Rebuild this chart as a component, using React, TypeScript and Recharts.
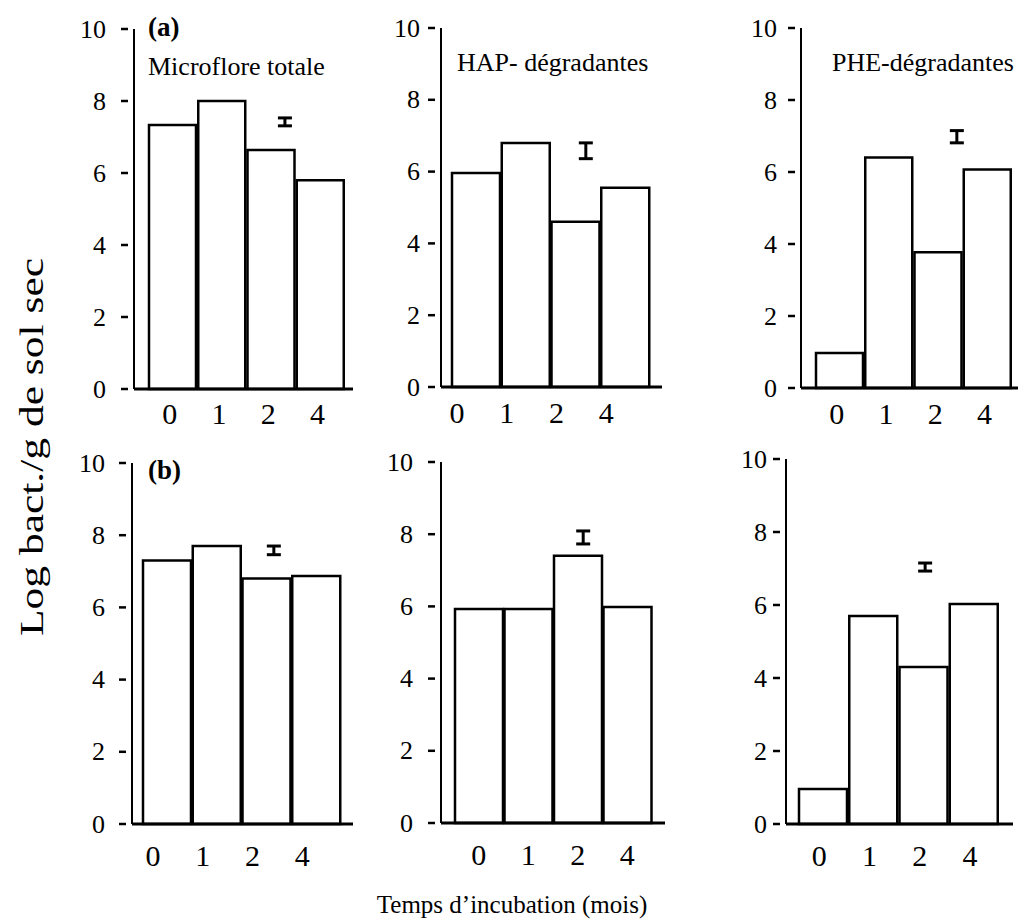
import React from 'react';
import { ComposedChart, Bar, XAxis, YAxis, Scatter, ErrorBar } from 'recharts';

const FONT = "'Liberation Serif','Times New Roman',Times,serif";

// Incubation time categories (months)
const months = ['0', '1', '2', '4'];
const yTicks = [0, 2, 4, 6, 8, 10];

// (a) row values: Log bact./g dry soil
const aTotale = [7.33, 8.0, 6.64, 5.8];
const aHap = [5.96, 6.8, 4.6, 5.55];
const aPhe = [0.97, 6.4, 3.77, 6.07];
// (b) row values
const bTotale = [7.3, 7.7, 6.8, 6.87];
const bHap = [5.93, 5.93, 7.4, 5.98];
const bPhe = [0.96, 5.7, 4.3, 6.03];

// LSD bars (centre and half-width) for each panel
const lsdCenter = [7.42, 6.58, 6.98, 7.58, 7.91, 7.04];
const lsdHalf = [0.11, 0.22, 0.17, 0.12, 0.18, 0.11];

const seriesList = [aTotale, aHap, aPhe, bTotale, bHap, bPhe];

// layout per panel
const panels = [
  { axisX: 134, y10: 29, y0: 389, xEnd: 353, barStart: 148, barEnd: 345, labelDx: -3, labelDy: 24, tickGap: 28, errPos: 2.78 },
  { axisX: 441, y10: 28, y0: 387, xEnd: 662, barStart: 451, barEnd: 650, labelDx: -19, labelDy: 25, tickGap: 21, errPos: 2.71 },
  { axisX: 801, y10: 28, y0: 388, xEnd: 1018, barStart: 815, barEnd: 1012, labelDx: -3, labelDy: 25, tickGap: 24, errPos: 2.88 },
  { axisX: 132, y10: 463, y0: 824, xEnd: 353, barStart: 142, barEnd: 341, labelDx: -14, labelDy: 31, tickGap: 27, errPos: 2.65 },
  { axisX: 441, y10: 462, y0: 823, xEnd: 665, barStart: 454, barEnd: 652, labelDx: 0, labelDy: 31, tickGap: 28, errPos: 2.61 },
  { axisX: 786, y10: 459, y0: 824, xEnd: 1013, barStart: 798, barEnd: 999, labelDx: -4, labelDy: 31, tickGap: 19, errPos: 2.53 },
];

const YW = 60;
const MT = 22;
const XH = 52;
const MR = 1;

function Panel({ idx }: { idx: number }) {
  const p = panels[idx];
  const vals = seriesList[idx];
  const data = months.map((m, i) => ({ m, v: vals[i] }));
  const errData = [{ x: p.errPos, y: lsdCenter[idx], e: lsdHalf[idx] }];
  const plotW = p.xEnd - p.axisX;
  const width = YW + plotW + MR;
  const height = MT + (p.y0 - p.y10) + XH;

  const YTick = (props: any) => {
    const { x, y, payload } = props;
    return (
      <g>
        <line x1={x - 13} x2={x - 6} y1={y} y2={y} stroke="#000" strokeWidth={2.5} />
        <text x={x - p.tickGap} y={y} textAnchor="end" dominantBaseline="central" fontSize={26} fontFamily={FONT} fill="#000">
          {payload.value}
        </text>
      </g>
    );
  };
  const XTick = (props: any) => {
    const { x, y, payload } = props;
    return (
      <text x={x + p.labelDx} y={y + p.labelDy} textAnchor="middle" dominantBaseline="central" fontSize={30} fontFamily={FONT} fill="#000">
        {payload.value}
      </text>
    );
  };

  return (
    <div style={{ position: 'absolute', left: p.axisX - YW, top: p.y10 - MT, width, height }}>
      <ComposedChart width={width} height={height} data={data} margin={{ top: MT, right: MR, left: 0, bottom: 0 }} barCategoryGap={1}>
        <XAxis
          dataKey="m"
          xAxisId="cat"
          height={XH}
          axisLine={{ stroke: '#000', strokeWidth: 3 }}
          tickLine={false}
          tickSize={0}
          tickMargin={0}
          tick={<XTick />}
          interval={0}
          padding={{ left: p.barStart - p.axisX, right: p.xEnd - p.barEnd }}
        />
        <XAxis
          xAxisId="num"
          dataKey="x"
          type="number"
          domain={[0, 4]}
          hide
          padding={{ left: p.barStart - p.axisX, right: p.xEnd - p.barEnd }}
        />
        <YAxis
          width={YW}
          domain={[0, 10]}
          ticks={yTicks}
          interval={0}
          axisLine={{ stroke: '#000', strokeWidth: 2 }}
          tickLine={false}
          tickSize={0}
          tickMargin={0}
          tick={<YTick />}
        />
        <Bar dataKey="v" xAxisId="cat" fill="#fff" stroke="#000" strokeWidth={2.5} isAnimationActive={false} />
        <Scatter data={errData} dataKey="y" xAxisId="num" isAnimationActive={false} shape={() => <g />}>
          <ErrorBar dataKey="e" direction="y" width={7} stroke="#000" strokeWidth={3} isAnimationActive={false} />
        </Scatter>
      </ComposedChart>
    </div>
  );
}

export default function App() {
  return (
    <div style={{ position: 'absolute', left: 0, top: 0, width: 1019, height: 923, background: '#fff', overflow: 'hidden' }}>
      {panels.map((_, i) => (
        <Panel key={i} idx={i} />
      ))}
      <svg width={1019} height={923} style={{ position: 'absolute', left: 0, top: 0, pointerEvents: 'none' }}>
        <g fontFamily={FONT} fill="#000">
          <text x={148} y={36} fontSize={27} fontWeight="bold">(a)</text>
          <text x={148} y={479} fontSize={27} fontWeight="bold">(b)</text>
          <text x={148} y={75} fontSize={26}>Microflore totale</text>
          <text x={457} y={71} fontSize={26}>HAP- dégradantes</text>
          <text x={832} y={71} fontSize={26}>PHE-dégradantes</text>
          <text x={512} y={913} fontSize={25} textAnchor="middle">Temps d’incubation (mois)</text>
          <text x={0} y={0} fontSize={34} textAnchor="middle" textLength={378} lengthAdjust="spacingAndGlyphs" transform="translate(43,447) rotate(-90)">Log bact./g de sol sec</text>
        </g>
      </svg>
    </div>
  );
}
